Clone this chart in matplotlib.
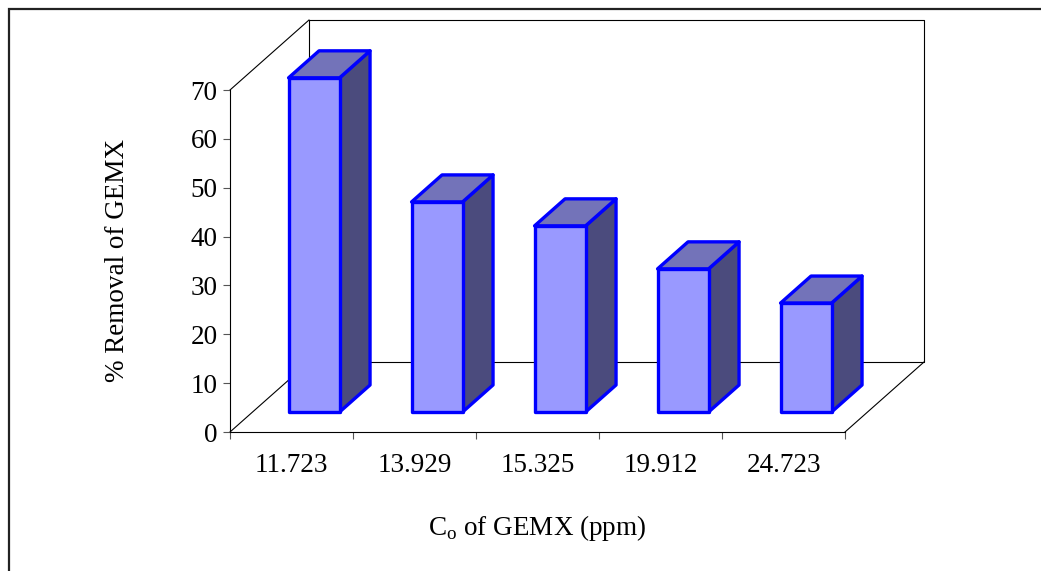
import numpy as np
import matplotlib

matplotlib.use('agg')

import matplotlib.pyplot as plt
from matplotlib.patches import Polygon, Rectangle

# данные
concentrations = ['11.723', '13.929', '15.325', '19.912', '24.723']
removal = [68.4, 43.0, 38.1, 29.3, 22.3]

plt.rcParams['font.family'] = ['Liberation Serif', 'DejaVu Serif']
plt.rcParams['mathtext.fontset'] = 'custom'
plt.rcParams['mathtext.rm'] = 'Liberation Serif'

W, H = 1041, 571
fig = plt.figure(figsize=(W / 100, H / 100), dpi=100)

# рамка вокруг всей диаграммы (правый и нижний край за пределами)
fig.patches.append(Rectangle((9 / W, -0.2), 1.5, 1.2 - 9 / H,
                             transform=fig.transFigure, fill=False,
                             edgecolor='#222222', lw=1.6))

# передняя плоскость осей
x0, x1 = 230, 845
y0, y1 = 432, 90
ax = fig.add_axes([x0 / W, (H - y0) / H, (x1 - x0) / W, (y0 - y1) / H])
n = len(concentrations)
ymax = 70
ax.set_xlim(0, n)
ax.set_ylim(0, ymax)
ax.patch.set_alpha(0)

# смещение по глубине (косоугольная проекция)
ddx = 79 / 123          # в единицах категорий
ddy = 70 * ymax / (y0 - y1)  # в единицах значений


def proj(x, y, d):
    return x + d * ddx, y + d * ddy


line_kw = dict(color='black', lw=0.8, clip_on=False, zorder=1)

# задняя стенка, боковая стенка и пол
bx, by = proj(0, 0, 1)
tx, ty = proj(n, ymax, 1)
ax.plot([bx, bx, tx, tx, bx], [by, ty, ty, by, by], **line_kw)
ax.plot([0, bx], [ymax, ty], **line_kw)
ax.plot([0, bx], [0, by], **line_kw)
rx, ry = proj(n, 0, 1)
ax.plot([n, rx], [0, ry], **line_kw)

# столбцы
bar_w = 51 / 123
d_front, d_back = 20 / 70, 47 / 70
face_c, top_c, side_c = '#9999FF', '#7373B9', '#4B4B7D'
edge_kw = dict(edgecolor='#0000FF', lw=2.4, joinstyle='round', clip_on=False, zorder=3)

for i, v in enumerate(removal):
    left = i + 0.5 - bar_w / 2
    right = left + bar_w
    fl = proj(left, 0, d_front)
    fr = proj(right, 0, d_front)
    flt = proj(left, v, d_front)
    frt = proj(right, v, d_front)
    brt = proj(right, v, d_back)
    blt = proj(left, v, d_back)
    br = proj(right, 0, d_back)
    ax.add_patch(Polygon([fr, br, brt, frt], closed=True, facecolor=side_c, **edge_kw))
    ax.add_patch(Polygon([flt, frt, brt, blt], closed=True, facecolor=top_c, **edge_kw))
    ax.add_patch(Polygon([fl, fr, frt, flt], closed=True, facecolor=face_c, **edge_kw))

# оси и подписи
for s in ['top', 'right']:
    ax.spines[s].set_visible(False)
for s in ['left', 'bottom']:
    ax.spines[s].set_linewidth(0.8)
    ax.spines[s].set_zorder(2)

ax.set_yticks(np.arange(0, ymax + 1, 10))
ax.set_xticks(np.arange(0, n + 1))
ax.set_xticklabels([])
ax.set_xticks(np.arange(n) + 0.5, minor=True)
ax.set_xticklabels(concentrations, minor=True)
ax.tick_params(axis='y', length=5, width=0.8, color='#555555', labelsize=19.5, pad=4)
ax.tick_params(axis='x', which='major', length=5, width=0.8, color='#555555', direction='out')
ax.tick_params(axis='x', which='minor', length=0, labelsize=19.5, pad=15)

fig.text(117 / W, (H - 260) / H, '% Removal of GEMX', rotation=90,
         ha='center', va='center', fontsize=19.5)
fig.text(537 / W, (H - 528) / H, r'C$_{\rm o}$ of GEMX (ppm)',
         ha='center', va='center', fontsize=19.5)

fig.savefig('out.png', dpi=100)
plt.close(fig)
